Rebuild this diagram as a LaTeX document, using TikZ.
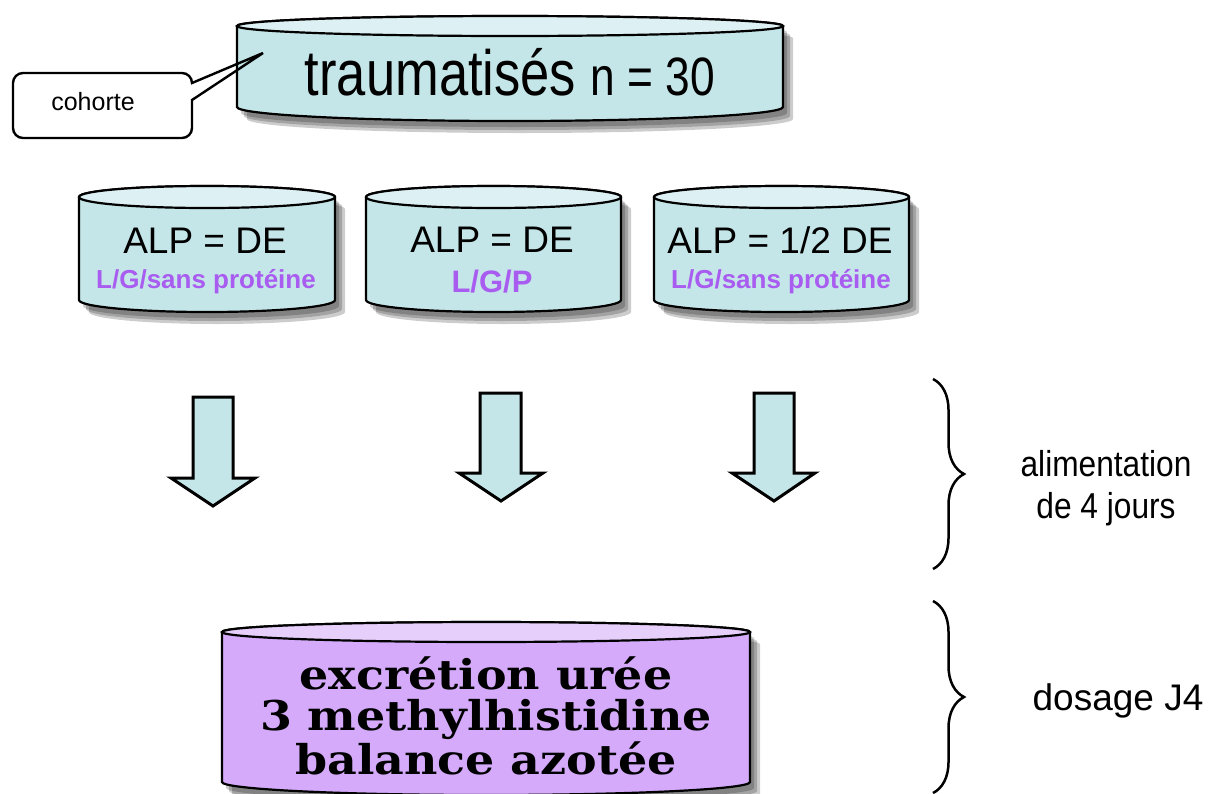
\documentclass[tikz,border=0pt]{standalone}
\usepackage{fontspec}
\setmainfont{Liberation Sans}
\newfontfamily\narrowsans[FakeStretch=0.82]{Liberation Sans}
\newfontfamily\labelsans[FakeStretch=0.88]{Liberation Sans}
\newfontfamily\wideserif[FakeStretch=1.12]{DejaVu Serif}
\usetikzlibrary{decorations.pathreplacing}
\definecolor{cylbody}{RGB}{197,230,232}
\definecolor{cyltop}{RGB}{221,240,243}
\definecolor{lilabody}{RGB}{213,170,250}
\definecolor{lilatop}{RGB}{231,207,252}
\definecolor{dietpurple}{RGB}{168,92,240}

\begin{document}
\begin{tikzpicture}[x=0.5pt,y=-0.5pt,
  edge/.style={draw=black,line width=1.1pt},
  shade/.style={fill=black,opacity=0.2},
  bigarrow/.style={draw=black,line width=1.5pt,fill=cylbody,line join=miter},
  bracket/.style={decorate,decoration={brace,amplitude=15.5pt},line width=1.25pt},
  alp/.style={font=\fontsize{18.5}{20}\selectfont},
  diet/.style={text=dietpurple,font=\bfseries\fontsize{13}{15}\selectfont}]
\useasboundingbox (0,0) rectangle (1224,793);

% top cylinder
\fill[shade,shift={(4,6)}] (237,26) -- (237,107) arc[start angle=180,end angle=0,x radius=273,y radius=14] -- (783,26) arc[start angle=360,end angle=180,x radius=273,y radius=10] -- cycle;
\fill[shade,shift={(7,9)}] (237,26) -- (237,107) arc[start angle=180,end angle=0,x radius=273,y radius=14] -- (783,26) arc[start angle=360,end angle=180,x radius=273,y radius=10] -- cycle;
\fill[shade,shift={(10,12)}] (237,26) -- (237,107) arc[start angle=180,end angle=0,x radius=273,y radius=14] -- (783,26) arc[start angle=360,end angle=180,x radius=273,y radius=10] -- cycle;
\filldraw[edge,fill=cylbody] (237,26) -- (237,107) arc[start angle=180,end angle=0,x radius=273,y radius=14] -- (783,26) arc[start angle=360,end angle=180,x radius=273,y radius=10] -- cycle;
\filldraw[edge,fill=cyltop] (510,26) ellipse[x radius=273,y radius=10];
\node[anchor=base,inner sep=0pt] (trauma) at (510,95)
  {\narrowsans\fontsize{32}{36}\selectfont traumatisés \fontsize{27}{30}\selectfont n = 30};

% callout
\fill[white,rounded corners=10] (13,73) rectangle (192,138);
\draw[line width=1.2pt,line join=miter] (263,53) -- (192,100) -- (192,128) arc[start angle=0,end angle=90,radius=10]
  -- (23,138) arc[start angle=90,end angle=180,radius=10]
  -- (13,83) arc[start angle=180,end angle=270,radius=10]
  -- (182,73) arc[start angle=270,end angle=360,radius=10] -- cycle;
\node[anchor=base,font=\fontsize{12.5}{14}\selectfont] (cohorte) at (93,110) {cohorte};

% three groups
\fill[shade,shift={(4,6)}] (79,197) -- (79,300) arc[start angle=180,end angle=0,x radius=128,y radius=12] -- (335,197) arc[start angle=360,end angle=180,x radius=128,y radius=11] -- cycle;
\fill[shade,shift={(7,9)}] (79,197) -- (79,300) arc[start angle=180,end angle=0,x radius=128,y radius=12] -- (335,197) arc[start angle=360,end angle=180,x radius=128,y radius=11] -- cycle;
\fill[shade,shift={(10,12)}] (79,197) -- (79,300) arc[start angle=180,end angle=0,x radius=128,y radius=12] -- (335,197) arc[start angle=360,end angle=180,x radius=128,y radius=11] -- cycle;
\filldraw[edge,fill=cylbody] (79,197) -- (79,300) arc[start angle=180,end angle=0,x radius=128,y radius=12] -- (335,197) arc[start angle=360,end angle=180,x radius=128,y radius=11] -- cycle;
\filldraw[edge,fill=cyltop] (207,197) ellipse[x radius=128,y radius=11];
\node[alp,anchor=base] (alpA) at (205,253) {ALP = DE};
\node[diet,anchor=base] (dietA) at (206,288) {L/G/sans protéine};

\fill[shade,shift={(4,6)}] (366,197) -- (366,300) arc[start angle=180,end angle=0,x radius=127.5,y radius=12] -- (621,197) arc[start angle=360,end angle=180,x radius=127.5,y radius=11] -- cycle;
\fill[shade,shift={(7,9)}] (366,197) -- (366,300) arc[start angle=180,end angle=0,x radius=127.5,y radius=12] -- (621,197) arc[start angle=360,end angle=180,x radius=127.5,y radius=11] -- cycle;
\fill[shade,shift={(10,12)}] (366,197) -- (366,300) arc[start angle=180,end angle=0,x radius=127.5,y radius=12] -- (621,197) arc[start angle=360,end angle=180,x radius=127.5,y radius=11] -- cycle;
\filldraw[edge,fill=cylbody] (366,197) -- (366,300) arc[start angle=180,end angle=0,x radius=127.5,y radius=12] -- (621,197) arc[start angle=360,end angle=180,x radius=127.5,y radius=11] -- cycle;
\filldraw[edge,fill=cyltop] (493.5,197) ellipse[x radius=127.5,y radius=11];
\node[alp,anchor=base] (alpB) at (492,252) {ALP = DE};
\node[diet,anchor=base,font=\bfseries\fontsize{15.5}{17}\selectfont] (dietB) at (492,292) {L/G/P};

\fill[shade,shift={(4,6)}] (654,197) -- (654,300) arc[start angle=180,end angle=0,x radius=127.5,y radius=12] -- (909,197) arc[start angle=360,end angle=180,x radius=127.5,y radius=11] -- cycle;
\fill[shade,shift={(7,9)}] (654,197) -- (654,300) arc[start angle=180,end angle=0,x radius=127.5,y radius=12] -- (909,197) arc[start angle=360,end angle=180,x radius=127.5,y radius=11] -- cycle;
\fill[shade,shift={(10,12)}] (654,197) -- (654,300) arc[start angle=180,end angle=0,x radius=127.5,y radius=12] -- (909,197) arc[start angle=360,end angle=180,x radius=127.5,y radius=11] -- cycle;
\filldraw[edge,fill=cylbody] (654,197) -- (654,300) arc[start angle=180,end angle=0,x radius=127.5,y radius=12] -- (909,197) arc[start angle=360,end angle=180,x radius=127.5,y radius=11] -- cycle;
\filldraw[edge,fill=cyltop] (781.5,197) ellipse[x radius=127.5,y radius=11];
\node[alp,anchor=base] (alpC) at (780,253) {ALP = 1/2 DE};
\node[diet,anchor=base] (dietC) at (781,288) {L/G/sans protéine};

% block arrows
\draw[bigarrow] (193,397) -- (233,397) -- (233,478) -- (255,478) -- (213,506) -- (171,478) -- (193,478) -- cycle;
\draw[bigarrow] (480,393) -- (521,393) -- (521,473) -- (543,473) -- (501,501) -- (459,473) -- (480,473) -- cycle;
\draw[bigarrow] (754,393) -- (794,393) -- (794,473) -- (815,473) -- (774,501) -- (732,473) -- (754,473) -- cycle;

% measures
\fill[shade,shift={(4,6)}] (222,632) -- (222,782) arc[start angle=180,end angle=0,x radius=264,y radius=13] -- (750,632) arc[start angle=360,end angle=180,x radius=264,y radius=10] -- cycle;
\fill[shade,shift={(7,9)}] (222,632) -- (222,782) arc[start angle=180,end angle=0,x radius=264,y radius=13] -- (750,632) arc[start angle=360,end angle=180,x radius=264,y radius=10] -- cycle;
\fill[shade,shift={(10,12)}] (222,632) -- (222,782) arc[start angle=180,end angle=0,x radius=264,y radius=13] -- (750,632) arc[start angle=360,end angle=180,x radius=264,y radius=10] -- cycle;
\filldraw[edge,fill=lilabody] (222,632) -- (222,782) arc[start angle=180,end angle=0,x radius=264,y radius=13] -- (750,632) arc[start angle=360,end angle=180,x radius=264,y radius=10] -- cycle;
\filldraw[edge,fill=lilatop] (486,632) ellipse[x radius=264,y radius=10];
\node[align=center,inner sep=0pt,font=\wideserif\bfseries\fontsize{20.5}{20.5}\selectfont] (dosages) at (486,716)
  {excrétion urée\\3 methylhistidine\\balance azotée};

% braces and phases
\coordinate (feedtop) at (933,379);
\coordinate (feedbot) at (933,569);
\coordinate (dosetop) at (933,601);
\coordinate (dosebot) at (933,793);
\draw[bracket] (feedtop) -- (feedbot);
\draw[bracket] (dosetop) -- (dosebot);
\node[align=center,font=\labelsans\fontsize{18}{21}\selectfont] (feeding) at (1106,488) {alimentation\\de 4 jours};
\node[anchor=base,font=\fontsize{18.5}{21}\selectfont] (dosage) at (1118,710) {dosage J4};
\end{tikzpicture}
\end{document}
